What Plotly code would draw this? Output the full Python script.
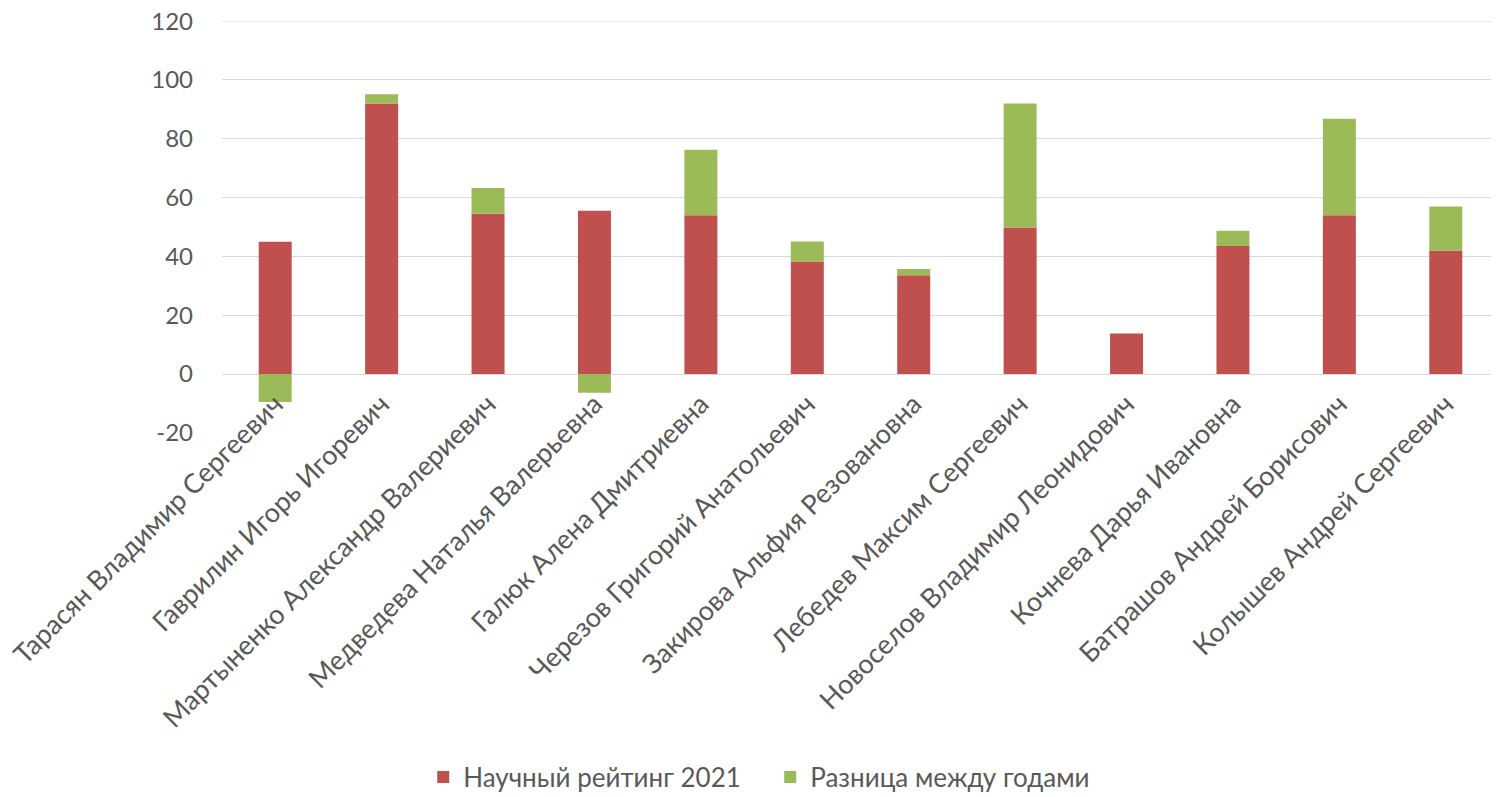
import plotly.graph_objects as go

names = [
    "Тарасян Владимир Сергеевич",
    "Гаврилин Игорь Игоревич",
    "Мартыненко Александр Валериевич",
    "Медведева Наталья Валерьевна",
    "Галюк Алена Дмитриевна",
    "Черезов Григорий Анатольевич",
    "Закирова Альфия Резовановна",
    "Лебедев Максим Сергеевич",
    "Новоселов Владимир Леонидович",
    "Кочнева Дарья Ивановна",
    "Батрашов Андрей Борисович",
    "Колышев Андрей Сергеевич",
]
rating_2021 = [45.0, 92.0, 54.5, 55.5, 54.0, 38.3, 33.6, 49.8, 13.8, 43.5, 54.0, 42.0]
difference = [-9.5, 3.1, 8.8, -6.4, 22.3, 6.8, 2.1, 42.2, 0.0, 5.2, 32.8, 15.0]
y_ticks = [-20, 0, 20, 40, 60, 80, 100, 120]
y_tick_text = ["-20", "0", "20", "40", "60", "80", "100", "120"]
y_min, y_max = -20, 120
pad = 0.05

FONT = "Lato, 'Open Sans', sans-serif"
GREY = "#595959"
GRID = "#D9D9D9"

fig = go.Figure()
fig.add_trace(go.Bar(x=names, y=rating_2021, name="Научный рейтинг 2021",
                     marker=dict(color="#C0504D", line=dict(width=0))))
fig.add_trace(go.Bar(x=names, y=difference, name="Разница между годами",
                     marker=dict(color="#9BBB59", line=dict(width=0))))

# top gridline (plotly drops gridlines lying on the plot edge)
fig.add_shape(type="line", xref="paper", yref="y", x0=0, x1=1, y0=y_max, y1=y_max,
              line=dict(color=GRID, width=1), layer="below")

fig.update_layout(
    barmode="relative",
    bargap=0.69,
    width=1499, height=797,
    margin=dict(l=214, r=8, t=13, b=372, autoexpand=False),
    paper_bgcolor="white", plot_bgcolor="white",
    font=dict(family=FONT, color=GREY, size=24),
    legend=dict(orientation="h", xref="container", yref="container",
                x=0.5085, xanchor="center", y=0.035, yanchor="middle",
                font=dict(size=26, color=GREY, family=FONT),
                entrywidth=302, traceorder="normal"),
    xaxis=dict(tickangle=-45, tickfont=dict(size=27, color=GREY, family=FONT),
               showgrid=False, showline=False, ticks="", automargin=False,
               anchor="free", position=(0 - (y_min - pad)) / ((y_max + pad) - (y_min - pad)),
               ticklabelstandoff=8, ticklabeloverflow="allow"),
    yaxis=dict(range=[y_min - pad, y_max + pad], tickvals=y_ticks, ticktext=y_tick_text,
               gridcolor=GRID, gridwidth=1,
               zeroline=True, zerolinecolor=GRID, zerolinewidth=1,
               tickfont=dict(size=24, color=GREY, family=FONT),
               ticklabelstandoff=28, showline=False, automargin=False,
               ticklabeloverflow="allow"),
)

fig.write_html("out.html")
